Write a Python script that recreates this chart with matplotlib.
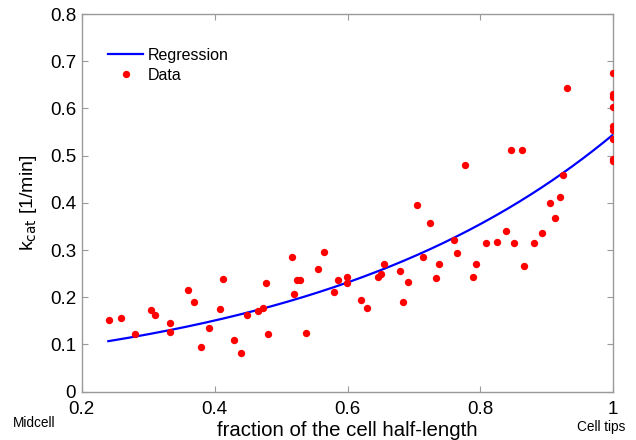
import numpy as np
import matplotlib
matplotlib.use("Agg")
import matplotlib.pyplot as plt

plt.rcParams['font.family'] = ['Liberation Sans', 'DejaVu Sans']

# Data points
frac = [0.2415, 0.259, 0.280, 0.304, 0.311, 0.333, 0.333, 0.360, 0.369, 0.380,
        0.391, 0.408, 0.412, 0.429, 0.440, 0.448, 0.466, 0.473, 0.478, 0.481,
        0.517, 0.520, 0.524, 0.529, 0.538, 0.556, 0.565, 0.579, 0.586, 0.599,
        0.599, 0.620, 0.629, 0.646, 0.651, 0.655, 0.679, 0.683, 0.691, 0.704,
        0.714, 0.724, 0.733, 0.738, 0.760, 0.765, 0.777, 0.789, 0.793, 0.809,
        0.825, 0.839, 0.846, 0.851, 0.862, 0.865, 0.881, 0.893, 0.905, 0.913,
        0.920, 0.925, 0.930, 1.0, 1.0, 1.0, 1.0, 1.0, 1.0, 1.0, 1.0, 1.0]
kcat = [0.151, 0.157, 0.122, 0.173, 0.163, 0.145, 0.126, 0.216, 0.191, 0.095,
        0.134, 0.175, 0.239, 0.110, 0.083, 0.162, 0.172, 0.177, 0.231, 0.122,
        0.285, 0.206, 0.237, 0.237, 0.124, 0.259, 0.296, 0.212, 0.237, 0.242,
        0.231, 0.195, 0.178, 0.242, 0.249, 0.270, 0.256, 0.191, 0.232, 0.396,
        0.286, 0.357, 0.240, 0.270, 0.321, 0.293, 0.481, 0.242, 0.270, 0.314,
        0.317, 0.341, 0.511, 0.314, 0.511, 0.266, 0.314, 0.336, 0.400, 0.369,
        0.413, 0.460, 0.643, 0.676, 0.631, 0.625, 0.604, 0.562, 0.555, 0.535,
        0.492, 0.489]

# Regression model (exponential) parameters
reg_a = 0.0640
reg_b = 2.142
reg_range = [0.24, 1.0]

xticks = [0.2, 0.4, 0.6, 0.8, 1.0]
xticklabels = ["0.2", "0.4", "0.6", "0.8", "1"]
yticks = [0, 0.1, 0.2, 0.3, 0.4, 0.5, 0.6, 0.7, 0.8]
yticklabels = ["0", "0.1", "0.2", "0.3", "0.4", "0.5", "0.6", "0.7", "0.8"]

fig = plt.figure(figsize=(6.36, 4.40), dpi=100)
ax = fig.add_axes([0.1285, 0.1098, 0.9643 - 0.1285, 0.968 - 0.1098])

xr = np.linspace(reg_range[0], reg_range[1], 200)
ax.plot(xr, reg_a * np.exp(reg_b * xr), color=(0, 0, 1), lw=1.6, label="Regression", zorder=2)
ax.plot(frac, kcat, 'o', color=(1, 0, 0), ms=5.3, mec='none', label="Data", zorder=3)

ax.set_xlim(0.2, 1.0)
ax.set_ylim(0, 0.8)
ax.set_xticks(xticks)
ax.set_xticklabels(xticklabels)
ax.set_yticks(yticks)
ax.set_yticklabels(yticklabels)

gray = '#9a9a9a'
for s in ax.spines.values():
    s.set_color(gray)
    s.set_linewidth(1.0)
ax.tick_params(direction='in', length=4, width=0.8, color=gray, labelsize=13.5,
               top=True, right=True, labelcolor='black')
ax.tick_params(axis='x', pad=7)
ax.tick_params(axis='y', pad=4)

ax.set_xlabel("fraction of the cell half-length", fontsize=14.7, labelpad=2)
ax.set_ylabel(r"k$_{\mathrm{cat}}$ [1/min]", fontsize=14, labelpad=8)

leg = ax.legend(loc='upper left', bbox_to_anchor=(0.038, 0.927), frameon=False,
                fontsize=11.5, handlelength=2.2, handletextpad=0.25, labelspacing=0.3,
                borderaxespad=0)

fig.text(13 / 636, 1 - 423 / 440, "Midcell", fontsize=9.8, va='center', ha='left')
fig.text(577 / 636, 1 - 427 / 440, "Cell tips", fontsize=9.8, va='center', ha='left')

fig.savefig("out.png", dpi=100)
